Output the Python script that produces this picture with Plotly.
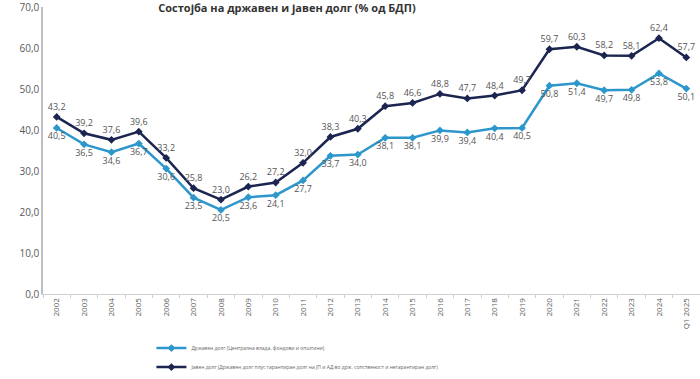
import plotly.graph_objects as go

categories = [str(y) for y in range(2002, 2025)] + ["Q1 2025"]
drzaven = [40.5, 36.5, 34.6, 36.7, 30.6, 23.5, 20.5, 23.6, 24.1, 27.7, 33.7, 34.0,
           38.1, 38.1, 39.9, 39.4, 40.4, 40.5, 50.8, 51.4, 49.7, 49.8, 53.8, 50.1]
javen = [43.2, 39.2, 37.6, 39.6, 33.2, 25.8, 23.0, 26.2, 27.2, 32.0, 38.3, 40.3,
         45.8, 46.6, 48.8, 47.7, 48.4, 49.7, 59.7, 60.3, 58.2, 58.1, 62.4, 57.7]
ytick_vals = [0, 10, 20, 30, 40, 50, 60, 70]
name_drz = "Државен долг (Централна влада, фондови и општини)"
name_jav = "Јавен долг (Државен долг плус гарантиран долг на ЈП и АД во држ. сопственост и негарантиран долг)"
title = "Состојба на државен и јавен долг (% од БДП)"

light = "#2d97cc"
dark = "#1b2550"
lab_col = "#555555"

fig = go.Figure()
fig.add_trace(go.Scatter(
    x=categories, y=drzaven, name=name_drz, mode="lines+markers+text",
    line=dict(color=light, width=2.5), marker=dict(symbol="diamond", size=6, color=light),
    text=[f"{v:.1f}".replace(".", ",") for v in drzaven], textposition="bottom center",
    textfont=dict(size=9, color=lab_col, family="Open Sans"), cliponaxis=False))
fig.add_trace(go.Scatter(
    x=categories, y=javen, name=name_jav, mode="lines+markers+text",
    line=dict(color=dark, width=2.5), marker=dict(symbol="diamond", size=6, color=dark),
    text=[f"{v:.1f}".replace(".", ",") for v in javen], textposition="top center",
    textfont=dict(size=9, color=lab_col, family="Open Sans"), cliponaxis=False))

fig.update_layout(
    width=700, height=379,
    margin=dict(l=43, r=0, t=7, b=85, autoexpand=False),
    paper_bgcolor="white", plot_bgcolor="white",
    separators=",.",
    font=dict(family="Open Sans", color="#595959"),
    title=dict(text=f"<b>{title}</b>", x=0.41, xanchor="center", y=0.978, yanchor="middle",
               font=dict(size=11, color="#333333")),
    showlegend=True,
    legend=dict(orientation="v", x=0.165, xanchor="left", y=-0.138, yanchor="top",
                font=dict(size=5, color="#666666"), itemwidth=30, tracegroupgap=7),
)
fig.update_xaxes(
    type="category", range=[-0.5, len(categories) - 0.5],
    showline=True, linecolor="#cfcfcf", linewidth=1, automargin=False,
    ticks="outside", tickson="boundaries", ticklen=3, tickcolor="#cfcfcf",
    tickangle=-90, tickfont=dict(size=8, color="#595959"), showgrid=False)
fig.update_yaxes(
    range=[0, 70], tickvals=ytick_vals, ticktext=[f"{v},0" for v in ytick_vals],
    showline=True, linecolor="#bfbfbf", ticklabeloverflow="allow", automargin=False,
    linewidth=1.5, showgrid=False, zeroline=False, ticks="",
    tickfont=dict(size=10, color="#595959"))

fig.write_html("out.html", config={"displayModeBar": False},
               post_script="document.body.style.margin='0';")
